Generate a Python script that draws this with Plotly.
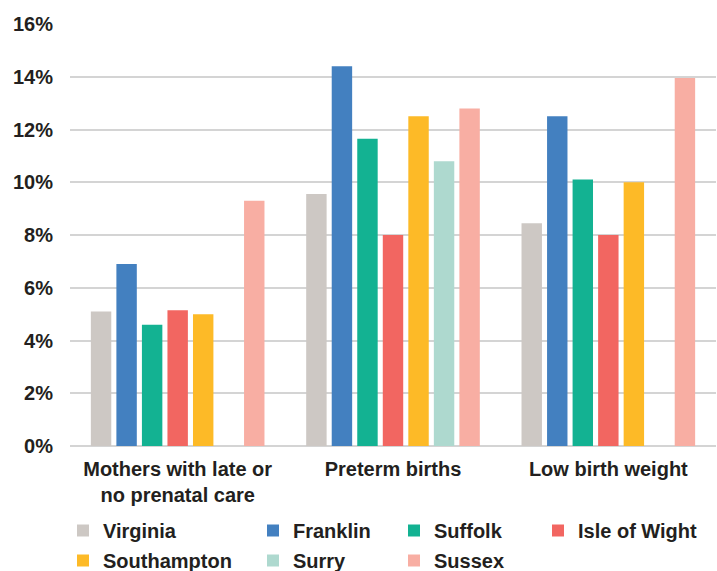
import plotly.graph_objects as go

categories = ["Mothers with late or<br>no prenatal care", "Preterm births", "Low birth weight"]

virginia = [5.1, 9.55, 8.45]
franklin = [6.9, 14.4, 12.5]
suffolk = [4.6, 11.65, 10.1]
isle_of_wight = [5.15, 8.0, 8.0]
southampton = [5.0, 12.5, 10.0]
surry = [None, 10.8, None]
sussex = [9.3, 12.8, 13.95]

y_ticks = [0, 2, 4, 6, 8, 10, 12, 14, 16]
y_tick_labels = [f"{v}%" for v in y_ticks]

series = [
    ("Virginia", virginia, "#cdc8c4", "legend"),
    ("Franklin", franklin, "#4380c0", "legend2"),
    ("Suffolk", suffolk, "#13b292", "legend3"),
    ("Isle of Wight", isle_of_wight, "#f26661", "legend4"),
    ("Southampton", southampton, "#fdba27", "legend"),
    ("Surry", surry, "#aed9cf", "legend2"),
    ("Sussex", sussex, "#f8aea3", "legend3"),
]

TEXT = "#231f20"
FONT = "Arial, Liberation Sans, sans-serif"
GRID = "#d4d4d4"

fig = go.Figure()
for name, vals, color, leg in series:
    fig.add_trace(go.Bar(
        name=name, x=categories, y=vals, legend=leg, legendgroup=name,
        marker=dict(color=color, line=dict(width=0)),
    ))

W, H = 717, 571


def legend_at(x_px, y_px):
    return dict(
        xref="container", yref="container",
        x=x_px / W, y=1 - y_px / H, xanchor="left", yanchor="top",
        orientation="v", traceorder="grouped", tracegroupgap=1,
        font=dict(family=FONT, size=20, color=TEXT, weight="bold"),
        bgcolor="rgba(0,0,0,0)", borderwidth=0,
    )


fig.update_layout(
    width=W, height=H,
    margin=dict(l=70, r=1, t=24, b=125, autoexpand=False),
    paper_bgcolor="white", plot_bgcolor="white",
    barmode="group", bargap=0.17, bargroupgap=0.2,
    font=dict(family=FONT, size=20, color=TEXT, weight="bold"),
    xaxis=dict(
        type="category", automargin=False,
        showgrid=False, showline=False, ticks="",
        tickfont=dict(family=FONT, size=20, color=TEXT, weight="bold"),
        ticklabelstandoff=9,
    ),
    yaxis=dict(
        type="linear", range=[0, 16], tickmode="array",
        tickvals=y_ticks, ticktext=y_tick_labels,
        automargin=False, layer="below traces",
        showgrid=True, gridcolor=GRID, gridwidth=1.5, griddash="solid",
        zeroline=True, zerolinecolor=GRID, zerolinewidth=1.5,
        showline=False, ticks="",
        tickfont=dict(family=FONT, size=20, color=TEXT, weight="bold"),
        ticklabelstandoff=16,
    ),
    legend=legend_at(63, 511),
    legend2=legend_at(253, 511),
    legend3=legend_at(394, 511),
    legend4=legend_at(538, 511),
)

fig.write_html("out.html")
